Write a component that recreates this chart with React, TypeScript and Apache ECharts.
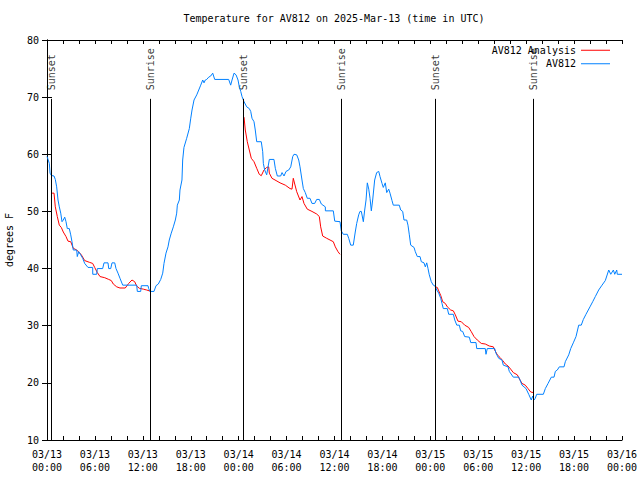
import React, { useEffect, useRef } from "react";
import * as echarts from "echarts";

const xTickLabels = [
  "03/13\n00:00", "03/13\n06:00", "03/13\n12:00", "03/13\n18:00",
  "03/14\n00:00", "03/14\n06:00", "03/14\n12:00", "03/14\n18:00",
  "03/15\n00:00", "03/15\n06:00", "03/15\n12:00", "03/15\n18:00",
  "03/16\n00:00",
];

const sunTimes = [0.55, 12.95, 24.55, 36.85, 48.6, 60.9];
const sunNames = ["Sunset", "Sunrise", "Sunset", "Sunrise", "Sunset", "Sunrise"];

// hours since 03/13 00:00 UTC, temperature in F
const obsData: [number, number][] = [
  [0, 59.6],[0.13,59.1],[0.29,58.4],[0.38,56.7],[0.54,56.3],[0.88,56.2],[1.04,55.6],[1.21,54.3],[1.38,52],[1.54,50.8],[1.72,49.7],[1.88,48.2],[2.04,48.5],[2.22,49],[2.38,48.2],[2.54,47],[2.79,47],[2.97,45.9],[3.13,44.7],[3.29,43.25],[3.72,43.25],[3.79,42.1],[3.97,42.95],[4.22,42.4],[4.47,41.8],[4.72,40.9],[5.13,40.2],[5.72,40.2],[5.73,39],[6.22,39],[6.30,40],[6.97,40],[7.14,41],[7.64,41],[7.73,40],[7.98,40],[8.14,41],[8.48,41],[8.64,40],[8.89,39.2],[9.14,38.3],[9.48,37.1],[10.39,37.1],[11.23,37.1],[11.31,36],[11.73,36],[11.81,37],[12.65,37],[12.73,36.5],[12.90,36],[13.40,36],[13.65,37],[13.94,37.3],[14.24,38.1],[14.49,39.2],[14.65,40.9],[14.90,42.7],[15.15,43.8],[15.31,45],[15.56,46.2],[15.82,47.3],[16.07,48.5],[16.24,49.7],[16.32,51.1],[16.57,52],[16.65,53.75],[16.90,55.5],[16.99,59],[17.15,61.2],[17.49,62.8],[17.82,64.5],[17.99,66.2],[18.16,67.75],[18.41,69.5],[18.75,70.4],[19.00,71.25],[19.25,72.1],[19.50,73],[19.66,72.5],[19.82,73],[20.00,73.1],[20.25,73.5],[20.50,73.7],[20.75,74.2],[21.00,73.1],[22.75,73.1],[23.00,72.1],[23.17,73],[23.42,74.2],[23.67,73.9],[23.92,73],[24.08,71.8],[24.26,71],[24.42,70.1],[24.67,69.2],[25.01,68.3],[25.33,68],[25.51,67.5],[25.67,66.3],[25.92,65.7],[26.08,64.25],[26.26,62.2],[26.83,62.2],[27.01,60.45],[27.09,58.4],[27.26,57.25],[27.51,56.4],[27.84,59.1],[28.42,59.1],[28.59,57.55],[28.84,56.2],[29.26,56.2],[29.43,56.8],[29.68,56.2],[29.93,57],[30.27,57.25],[30.52,57.8],[30.77,59.6],[30.93,60],[31.27,59.9],[31.52,59],[31.68,57.8],[31.93,55.5],[32.10,54],[32.34,53.3],[32.59,52.3],[32.93,52.3],[33.18,51.4],[33.52,51.4],[33.77,52.1],[34.10,52.1],[34.35,51.3],[34.85,50.8],[34.86,50.1],[35.85,50.1],[36.03,48.3],[36.69,48.2],[36.85,46.6],[37.10,46],[37.60,46],[37.78,45.3],[38.03,44.1],[38.35,44.1],[38.60,46.4],[38.78,47.9],[39.03,49.4],[39.19,50],[39.36,50],[39.61,48.2],[39.78,50.25],[39.95,52],[40.11,55],[40.29,53.9],[40.45,52.3],[40.61,50.1],[40.78,52],[41.03,55.5],[41.28,56.8],[41.54,57],[41.70,56.1],[41.95,54.9],[42.11,54.2],[42.36,55],[42.54,53.3],[42.79,53.9],[42.95,53.2],[43.20,51.9],[43.36,51.1],[44.11,51.1],[44.29,50.25],[44.54,50],[44.70,48.5],[45.04,48.5],[45.20,47.6],[45.37,45.9],[45.54,44.1],[45.96,43.7],[46.12,42.95],[46.37,42.1],[46.71,42.1],[46.87,41.2],[47.21,41],[47.37,40.3],[47.55,41],[47.71,40],[47.87,38.9],[48.12,37.7],[48.37,37.1],[48.62,36.9],[48.80,36.25],[49.05,35.7],[49.30,34.8],[49.46,33.9],[49.62,33],[50.13,33],[50.30,32],[50.88,32],[51.06,31],[51.31,30.1],[51.63,30.1],[51.80,29.1],[52.05,29],[52.30,28.1],[52.88,28],[53.06,27.05],[53.72,27.05],[53.81,26],[54.88,26],[54.97,25],[55.13,26],[56.06,26],[56.22,25.2],[56.56,24.3],[56.97,24],[57.14,23.1],[57.73,22.8],[57.89,22],[58.39,21],[59.07,21],[59.23,20.5],[59.48,19.6],[59.98,19],[60.32,18],[60.64,17],[60.82,17.7],[60.98,17],[61.14,17.3],[61.32,18],[62.15,18],[62.40,19],[62.74,19.9],[63.15,21],[63.49,21],[63.65,22],[63.90,22.25],[64.15,22.8],[64.74,22.8],[64.90,23.7],[65.33,24.9],[65.58,26],[65.90,27],[66.24,28.1],[66.58,30.1],[66.90,30.1],[67.16,31.1],[67.49,32],[67.99,33.3],[68.33,34.2],[68.66,35.1],[69.08,36.25],[69.50,37.1],[69.91,37.9],[70.34,39.75],[70.59,39],[70.92,39.75],[71.09,39],[71.34,39.75],[71.41,39],[72,39],
];

const anaData: [number, number | null][] = [
  [0.63,53.2],[0.88,53.2],[1.04,50.8],[1.29,49.1],[1.54,47.6],[1.79,47.2],[2.04,46.4],[2.38,45.6],[2.63,44.8],[2.97,44.7],[3.29,43.55],[3.72,43.25],[4.04,42.8],[4.30,42.4],[4.72,41.4],[5.30,41.1],[5.72,40.9],[5.97,40.2],[6.30,39.3],[6.64,38.6],[7.23,38.4],[7.73,38.1],[8.05,37.9],[8.30,37.3],[8.73,36.8],[9.14,36.6],[9.80,36.6],[10.23,37.4],[10.64,38],[10.98,37.7],[11.23,36.95],[11.56,36.55],[12.06,36.4],[12.48,36.25],[12.81,36.1],[12.94,36],
  [18, null],
  [24.67,66.5],[24.83,64.25],[25.08,62.2],[25.33,60.75],[25.58,59.3],[25.92,58.7],[26.26,57.55],[26.58,56.5],[26.83,56.25],[27.17,57.25],[27.51,57.7],[27.76,57.8],[27.84,56.7],[28.17,55.8],[28.68,55.4],[29.18,55],[29.84,54.6],[30.43,54],[30.68,53.9],[30.84,55.8],[31.02,54.8],[31.27,53.45],[31.68,52],[31.93,52.6],[32.18,51.4],[32.59,50.4],[33.18,50],[33.77,49.55],[34.10,49.1],[34.27,47.3],[34.52,45.7],[35.02,45.3],[35.44,45],[35.85,44.7],[36.10,43.8],[36.44,42.95],[36.69,42.5],
  [42, null],
  [48.62,36.8],[48.87,36.7],[49.05,36.1],[49.30,35.3],[49.55,34.2],[49.87,33.9],[50.13,33.3],[50.55,32.75],[50.88,32.6],[51.13,31.9],[51.46,30.8],[51.88,30.7],[52.30,30.1],[52.80,29.7],[53.13,28.95],[53.47,28.1],[53.88,27.5],[54.38,26.9],[54.88,26.8],[55.38,26.45],[55.89,26.3],[56.06,25.75],[56.39,24.9],[56.72,24.45],[57.06,23.9],[57.39,23.3],[57.73,22.95],[58.06,22.4],[58.39,21.8],[58.89,21.4],[59.23,20.5],[59.48,19.9],[59.89,19.6],[60.23,19],[60.57,18.4],[60.89,18.3],
];

const FONT = "DejaVu Sans Mono";

export default function App() {
  const ref = useRef<HTMLDivElement>(null);
  useEffect(() => {
    if (!ref.current) return;
    const chart = echarts.init(ref.current, null, { renderer: "svg" });
    const axisCommon = {
      type: "value" as const,
      min: 0,
      max: 72,
      interval: 6,
      axisLine: { show: true, lineStyle: { color: "#000", width: 1 } },
      axisTick: { show: true, inside: true, length: 4, lineStyle: { color: "#000" } },
      minorTick: { show: true, splitNumber: 3, length: 4, lineStyle: { color: "#000" } },
      splitLine: { show: false },
      minorSplitLine: { show: false },
    };
    const yCommon = {
      type: "value" as const,
      min: 10,
      max: 80,
      interval: 10,
      axisLine: { show: true, lineStyle: { color: "#000", width: 1 } },
      axisTick: { show: true, inside: true, length: 5, lineStyle: { color: "#000" } },
      splitLine: { show: false },
    };
    chart.setOption({
      animation: false,
      backgroundColor: "#fff",
      title: {
        text: "Temperature for AV812 on 2025-Mar-13 (time in UTC)",
        left: 334,
        top: 13,
        padding: 0,
        textAlign: "center",
        textStyle: { fontFamily: FONT, fontSize: 10, fontWeight: "normal", color: "#000" },
      },
      legend: {
        data: ["AV812 Analysis", "AV812"],
        orient: "vertical",
        align: "right",
        right: 30,
        top: 44,
        padding: 0,
        icon: "rect",
        itemWidth: 29,
        itemHeight: 1,
        itemGap: 1,
        textStyle: { fontFamily: FONT, fontSize: 10, color: "#000", lineHeight: 12.5 },
      },
      grid: { left: 47, right: 18, top: 40, bottom: 40, outerBoundsMode: "none", containLabel: false },
      xAxis: [
        {
          ...axisCommon,
          position: "bottom",
          axisLabel: {
            show: true,
            fontFamily: FONT,
            fontSize: 10,
            color: "#000",
            margin: 8,
            lineHeight: 13,
            hideOverlap: false,
            formatter: (v: number) => xTickLabels[Math.round(v / 6)] ?? "",
          },
        },
        { ...axisCommon, position: "top", axisLabel: { show: false } },
      ],
      yAxis: [
        {
          ...yCommon,
          position: "left",
          name: "degrees F",
          nameLocation: "middle",
          nameGap: 33,
          nameTextStyle: { fontFamily: FONT, fontSize: 10, color: "#000" },
          axisLabel: { fontFamily: FONT, fontSize: 10, color: "#000", margin: 8 },
        },
        { ...yCommon, position: "right", axisLabel: { show: false } },
      ],
      series: [
        {
          name: "sun",
          type: "scatter",
          xAxisIndex: 0,
          yAxisIndex: 0,
          symbolSize: 0,
          silent: true,
          data: sunTimes.map((t, i) => ({ value: [t, 71.2], name: sunNames[i] })),
          label: {
            show: true,
            position: "inside",
            rotate: 90,
            align: "left",
            verticalAlign: "middle",
            formatter: (p: any) => p.name,
            fontFamily: FONT,
            fontSize: 10,
            color: "#000",
          },
          markLine: {
            silent: true,
            symbol: ["none", "none"],
            label: { show: false },
            lineStyle: { color: "#000", width: 1, type: "solid" },
            data: sunTimes.map((t) => [{ coord: [t, 10] }, { coord: [t, 69.7] }]),
          },
          z: 1,
        },
        {
          name: "AV812 Analysis",
          type: "line",
          data: anaData,
          symbol: "none",
          connectNulls: false,
          lineStyle: { color: "#ff0000", width: 1 },
          itemStyle: { color: "#ff0000" },
          z: 2,
        },
        {
          name: "AV812",
          type: "line",
          data: obsData,
          symbol: "none",
          lineStyle: { color: "#0080ff", width: 1 },
          itemStyle: { color: "#0080ff" },
          z: 3,
        },
      ],
    });
    return () => chart.dispose();
  }, []);
  return (
    <div
      ref={ref}
      style={{ position: "fixed", left: 0, top: 0, width: 640, height: 480, background: "#fff" }}
    />
  );
}
